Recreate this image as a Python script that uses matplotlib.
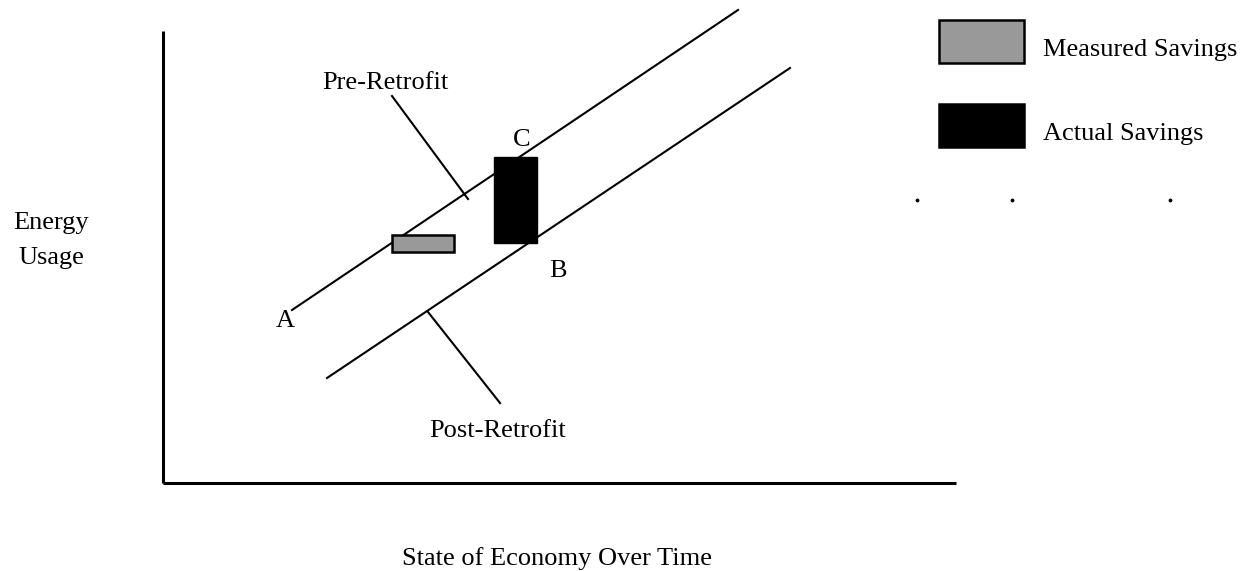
import matplotlib.pyplot as plt
from matplotlib.patches import Rectangle

plt.rcParams['font.family'] = ['Liberation Serif', 'DejaVu Serif']

# diagram geometry (pixel space of the original figure, y grows downward)
pre_retrofit_x = [292, 738]
pre_retrofit_y = [310, 10]
post_retrofit_x = [327, 790]
post_retrofit_y = [378, 68]

# savings boxes: (left, top, width, height)
measured_box = (392, 235, 62, 17)
actual_box = (494, 157, 43, 86)

# leader lines for the labels
pre_leader_x = [392, 468]
pre_leader_y = [96, 199]
post_leader_x = [428, 500]
post_leader_y = [312, 403]

# point labels
point_names = ['A', 'B', 'C']
point_x = [285, 558, 522]
point_y = [327, 277, 146]

legend_labels = ['Measured Savings', 'Actual Savings']
legend_colors = ['#999999', '#000000']
legend_top = [20, 104]

dots_x = [917, 1012, 1170]
dots_y = [200, 200, 200]

fig = plt.figure(figsize=(12.54, 5.71), dpi=100)
ax = fig.add_axes([0, 0, 1, 1])
ax.set_xlim(0, 1254)
ax.set_ylim(571, 0)
ax.axis('off')

fs = 19

# axes of the sketch
ax.plot([163, 163], [31, 483], color='black', lw=2.2, solid_capstyle='butt')
ax.plot([163, 956], [483, 483], color='black', lw=2.2, solid_capstyle='butt')

# regression lines
ax.plot(pre_retrofit_x, pre_retrofit_y, color='black', lw=1.5)
ax.plot(post_retrofit_x, post_retrofit_y, color='black', lw=1.5)
ax.plot(pre_leader_x, pre_leader_y, color='black', lw=1.5)
ax.plot(post_leader_x, post_leader_y, color='black', lw=1.5)

# savings boxes
l, t, w, h = measured_box
ax.add_patch(Rectangle((l, t), w, h, facecolor='#999999', edgecolor='black', lw=1.8, zorder=3))
l, t, w, h = actual_box
ax.add_patch(Rectangle((l, t), w, h, facecolor='black', edgecolor='black', lw=1.0, zorder=3))

# text labels
ax.text(385, 89, 'Pre-Retrofit', fontsize=fs, ha='center', va='baseline')
ax.text(498, 437, 'Post-Retrofit', fontsize=fs, ha='center', va='baseline')
for name, x, y in zip(point_names, point_x, point_y):
    ax.text(x, y, name, fontsize=fs, ha='center', va='baseline')

ax.text(51, 229, 'Energy', fontsize=fs, ha='center', va='baseline')
ax.text(51, 264, 'Usage', fontsize=fs, ha='center', va='baseline')
ax.text(557, 565, 'State of Economy Over Time', fontsize=fs, ha='center', va='baseline')

# legend
for label, color, top in zip(legend_labels, legend_colors, legend_top):
    ax.add_patch(Rectangle((939, top), 85, 43, facecolor=color, edgecolor='black', lw=1.8))
    ax.text(1043, top + 36, label, fontsize=fs, ha='left', va='baseline')

ax.scatter(dots_x, dots_y, s=3, color='black')

fig.savefig('out.png', dpi=100)
